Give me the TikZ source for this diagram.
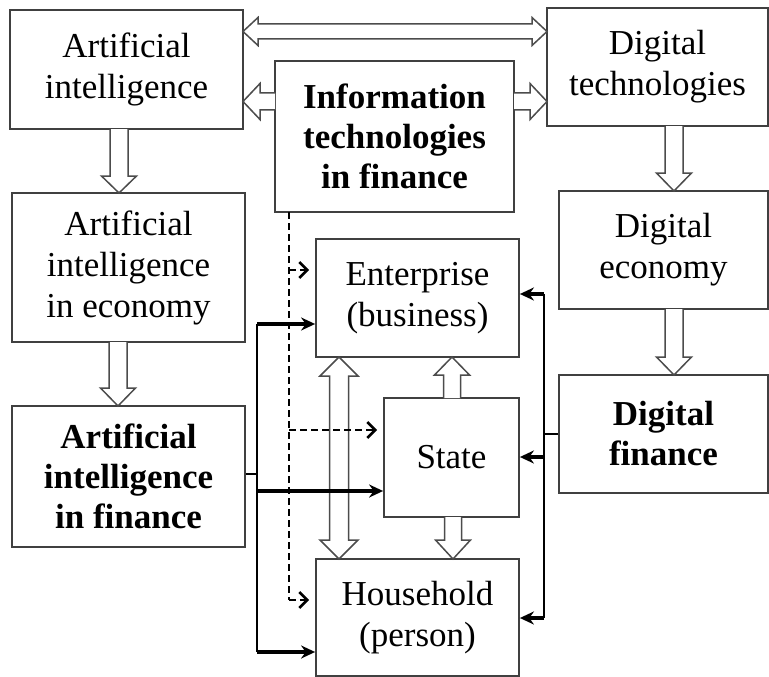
\documentclass[tikz,border=0pt]{standalone}
\usepackage{fontspec}
\setmainfont{Liberation Serif}
\usetikzlibrary{arrows.meta,calc}
\tikzset{
  box/.style={draw=black!75, line width=1.8pt, rectangle, inner sep=0pt, align=center, font=\fontsize{35}{41}\selectfont},
  bbox/.style={box, font=\fontsize{35}{40}\selectfont\bfseries},
  harrow/.style={draw=black!70, line width=1.5pt, fill=white, line join=miter},
  solidarrow/.style={line width=3.4pt, -{Stealth[length=14pt,width=13pt]}},
  linkline/.style={line width=2pt},
  dasharrow/.style={line width=2.4pt, dash pattern=on 7pt off 4pt, -{Straight Barb[length=8pt,width=16pt,line width=2.6pt]}, shorten >=6pt},
  dashline/.style={line width=2.2pt, dash pattern=on 7pt off 4pt},
}
% vertical hollow arrow: x, y1, y2(tip), shaft half, head half, signed head length
\newcommand\hV[6]{\draw[harrow] ({#1-#4},#2) -- ({#1-#4},{#3-(#6)}) -- ({#1-#5},{#3-(#6)}) -- (#1,#3) -- ({#1+#5},{#3-(#6)}) -- ({#1+#4},{#3-(#6)}) -- ({#1+#4},#2);}
% horizontal hollow arrow: y, x1, x2(tip), shaft half, head half, signed head length
\newcommand\hH[6]{\draw[harrow] (#2,{#1-#4}) -- ({#3-(#6)},{#1-#4}) -- ({#3-(#6)},{#1-#5}) -- (#3,#1) -- ({#3-(#6)},{#1+#5}) -- ({#3-(#6)},{#1+#4}) -- (#2,{#1+#4});}
% double horizontal: y, x1, x2, s, h, L
\newcommand\hHH[6]{\draw[harrow] ({#2+#6},{#1-#4}) -- ({#3-#6},{#1-#4}) -- ({#3-#6},{#1-#5}) -- (#3,#1) -- ({#3-#6},{#1+#5}) -- ({#3-#6},{#1+#4}) -- ({#2+#6},{#1+#4}) -- ({#2+#6},{#1+#5}) -- (#2,#1) -- ({#2+#6},{#1-#5}) -- cycle;}
% double vertical: x, y1, y2, s, h, L
\newcommand\hVV[6]{\draw[harrow] ({#1-#4},{#2+#6}) -- ({#1-#4},{#3-#6}) -- ({#1-#5},{#3-#6}) -- (#1,#3) -- ({#1+#5},{#3-#6}) -- ({#1+#4},{#3-#6}) -- ({#1+#4},{#2+#6}) -- ({#1+#5},{#2+#6}) -- (#1,#2) -- ({#1-#5},{#2+#6}) -- cycle;}
\begin{document}
\begin{tikzpicture}[x=1pt,y=-1pt]
\useasboundingbox[fill=white] (0,0) rectangle (769,677);

% boxes
\node[box, minimum width=233, minimum height=119] (ai) at (126.5,69.5) {Artificial\\intelligence};
\node[box, minimum width=233, minimum height=149] (aie) at (128.5,267.5) {Artificial\\intelligence\\in economy};
\node[bbox, minimum width=233, minimum height=141] (aif) at (128.5,476.5) {Artificial\\intelligence\\in finance};
\node[bbox, minimum width=239, minimum height=151] (it) at (394.5,136.5) {Information\\technologies\\in finance};
\node[box, minimum width=221, minimum height=118] (dt) at (657.5,67) {Digital\\technologies};
\node[box, minimum width=209, minimum height=118] (de) at (663.5,250) {Digital\\economy};
\node[bbox, minimum width=209, minimum height=118] (df) at (663.5,434) {Digital\\finance};
\node[box, minimum width=203, minimum height=118] (ent) at (417.5,298) {Enterprise\\(business)};
\node[box, minimum width=135, minimum height=119] (st) at (451.5,457.5) {State};
\node[box, minimum width=203, minimum height=117] (hh) at (417.5,617.5) {Household\\(person)};

% hollow arrows
\hV{119}{129}{193}{9}{17.5}{17}
\hV{118}{342}{406}{9}{17.5}{18}
\hV{674}{126}{191}{9}{17.5}{18}
\hV{674}{309}{375}{9}{17.5}{18}
\hV{452}{398}{357}{8.5}{17.5}{-18}
\hV{453}{517}{559}{8.5}{17.5}{19}
\hVV{339}{357}{559}{9.5}{19}{19}
\hHH{31.5}{243}{547}{7.5}{14}{15}
\hH{101.5}{275}{243}{8.5}{18}{-17}
\hH{101.5}{514}{547}{8.5}{18}{17}

% dashed connectors from information technologies
\coordinate (D0) at (289,212);
\coordinate (D1) at (289,270);
\coordinate (D2) at (289,430);
\coordinate (D3) at (289,600);
\draw[dashline] (D0) -- (D3);
\draw[dasharrow] (D1) -- (D1 -| ent.west);
\draw[dasharrow] (D2) -- (D2 -| st.west);
\draw[dasharrow] (D3) -- (D3 -| hh.west);

% solid connectors from AI in finance
\coordinate (L0) at (257,474);
\coordinate (L1) at (257,324);
\coordinate (L2) at (257,491);
\coordinate (L3) at (257,652);
\draw[linkline] (L1) -- (L3);
\draw[linkline] (aif.east |- L0) -- (L0);
\draw[solidarrow] (L1) -- (L1 -| ent.west);
\draw[solidarrow] (L2) -- (L2 -| st.west);
\draw[solidarrow] (L3) -- (L3 -| hh.west);

% solid connectors from digital finance
\coordinate (R1) at (544,294);
\coordinate (R2) at (544,457);
\coordinate (R3) at (544,618);
\draw[linkline] (R1) -- (R3);
\draw[linkline] (df.west) -- (df.west -| R1);
\draw[solidarrow] (R1) -- (R1 -| ent.east);
\draw[solidarrow] (R2) -- (R2 -| st.east);
\draw[solidarrow] (R3) -- (R3 -| hh.east);
\end{tikzpicture}
\end{document}
